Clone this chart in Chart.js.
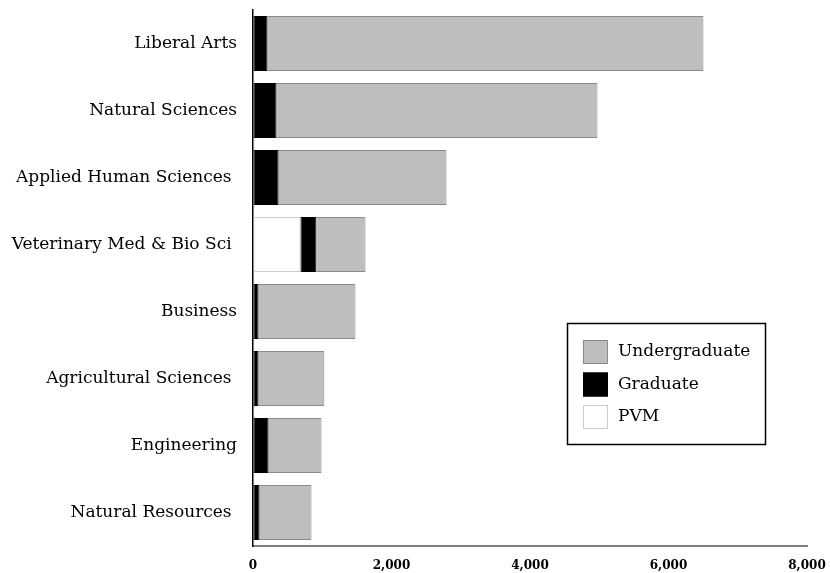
<!DOCTYPE html>
<html>
<head>
<meta charset="utf-8">
<script src="https://cdn.jsdelivr.net/npm/chart.js@4.4.0/dist/chart.umd.min.js"></script>
<style>
  html, body { margin: 0; padding: 0; background: #fff; }
  #wrap { width: 830px; height: 573px; position: relative; }
</style>
</head>
<body>
<div id="wrap"><canvas id="barChart"></canvas></div>
<script>
// colleges, top to bottom
const colleges = [
    "Liberal Arts",
    "Natural Sciences",
    "Applied Human Sciences ",
    "Veterinary Med & Bio Sci ",
    "Business",
    "Agricultural Sciences ",
    "Engineering",
    "Natural Resources "
];

// enrollment counts
const pvm = [0, 0, 0, 685, 0, 0, 0, 0];
const graduate = [210, 340, 370, 230, 80, 80, 225, 95];
const undergraduate = [6295, 4635, 2425, 710, 1400, 950, 765, 750];

const xTicks = [0, 2000, 4000, 6000, 8000];

const serif = "'DejaVu Serif', 'Liberation Serif', serif";

// legend box (drawn by hand, order is reversed from stacking)
const legendBox = {
    id: "legendBox",
    afterDraw(chart) {
        const ctx = chart.ctx;
        const x = 567, y = 323, w = 198, h = 121;
        ctx.save();
        ctx.fillStyle = "#fff";
        ctx.fillRect(x, y, w, h);
        ctx.strokeStyle = "#000";
        ctx.lineWidth = 1.5;
        ctx.strokeRect(x + 0.5, y + 0.5, w, h);

        const items = chart.data.datasets.slice().reverse();
        ctx.font = "17px " + serif;
        ctx.textBaseline = "middle";
        items.forEach((ds, i) => {
            const sy = y + 17 + i * 32.5;
            ctx.fillStyle = ds.backgroundColor;
            ctx.fillRect(x + 16, sy, 25, 24);
            ctx.strokeStyle = ds.borderColor;
            ctx.lineWidth = 1;
            ctx.strokeRect(x + 16.5, sy + 0.5, 24, 23);
            ctx.fillStyle = "#000";
            ctx.fillText(ds.label, x + 51, sy + 12);
        });
        ctx.restore();
    }
};

new Chart(document.getElementById("barChart"), {
    type: "bar",
    data: {
        labels: colleges,
        datasets: [
            {
                label: "PVM",
                data: pvm,
                backgroundColor: "#ffffff",
                borderColor: "#cccccc",
                borderWidth: 1
            },
            {
                label: "Graduate",
                data: graduate,
                backgroundColor: "#000000",
                borderColor: "#000000",
                borderWidth: 1
            },
            {
                label: "Undergraduate",
                data: undergraduate,
                backgroundColor: "#bebebe",
                borderColor: "#8a8a8a",
                borderWidth: 1
            }
        ]
    },
    options: {
        indexAxis: "y",
        responsive: true,
        maintainAspectRatio: false,
        animation: false,
        datasets: {
            bar: {
                barPercentage: 0.9,
                categoryPercentage: 0.91,
                borderSkipped: false
            }
        },
        layout: {
            padding: { top: 10, right: 23, left: 0, bottom: 0 }
        },
        plugins: {
            legend: { display: false },
            tooltip: { enabled: false }
        },
        scales: {
            x: {
                stacked: true,
                min: 0,
                max: 8000,
                afterBuildTicks(scale) {
                    scale.ticks = xTicks.map(v => ({ value: v }));
                },
                afterFit(scale) {
                    scale.height = 27;
                    scale.paddingLeft = 0;
                    scale.paddingRight = 0;
                },
                grid: { drawOnChartArea: false, drawTicks: false },
                border: { display: true, color: "#808080", width: 2 },
                ticks: {
                    padding: 13,
                    color: "#000",
                    font: { family: serif, size: 12, weight: "bold" },
                    callback: v => v.toLocaleString("en-US")
                }
            },
            y: {
                stacked: true,
                afterFit(scale) {
                    scale.width = 253;
                    scale.paddingTop = 0;
                    scale.paddingBottom = 0;
                },
                grid: { drawOnChartArea: false, drawTicks: false },
                border: { display: true, color: "#000", width: 1.5 },
                ticks: {
                    padding: 16,
                    color: "#000",
                    font: { family: serif, size: 17 }
                }
            }
        }
    },
    plugins: [legendBox]
});
</script>
</body>
</html>
